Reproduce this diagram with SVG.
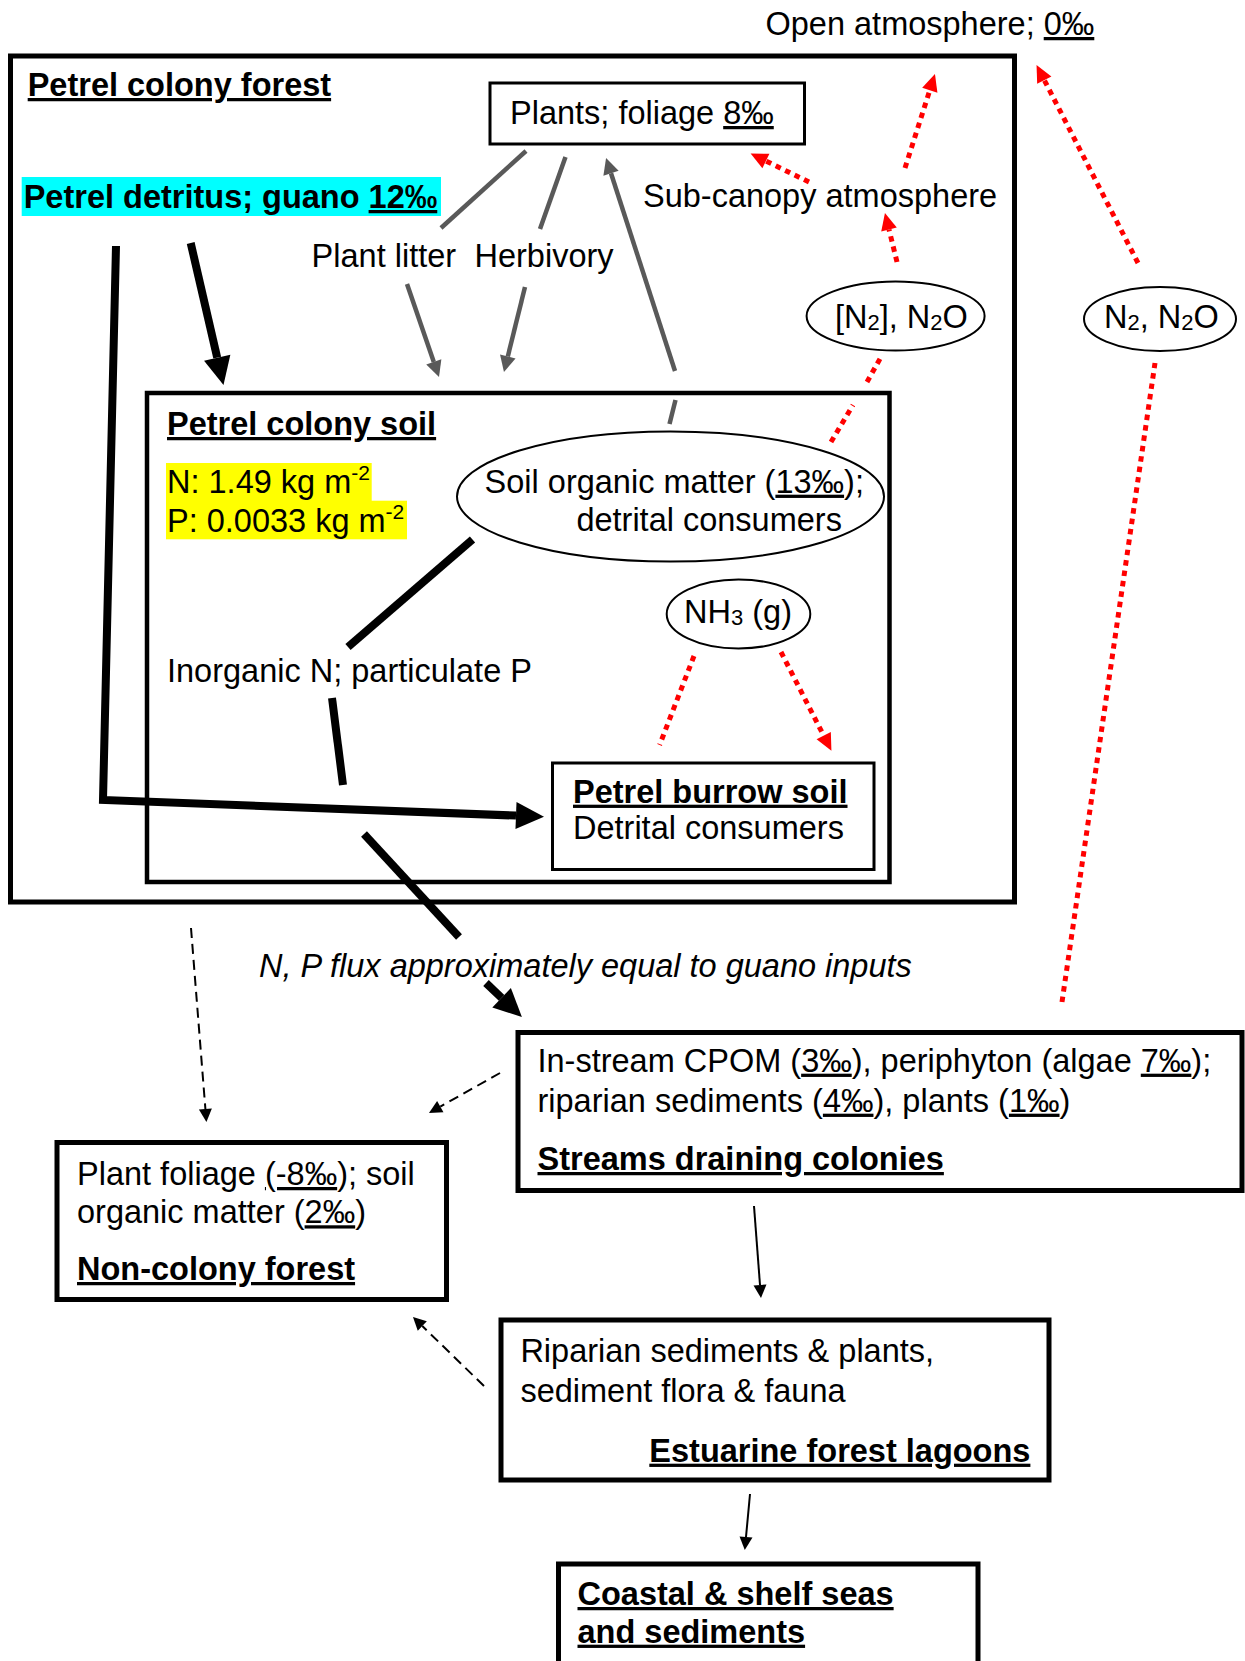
<svg xmlns="http://www.w3.org/2000/svg" width="1245" height="1661" viewBox="0 0 1245 1661">
<style>
text{font-family:"Liberation Sans",Arial,sans-serif;font-size:32.5px;fill:#000}
.b{font-weight:bold}
.i{font-style:italic}
.u{text-decoration:underline}
.box{fill:none;stroke:#000}
.ell{fill:#fff;stroke:#000;stroke-width:2}
.thick{stroke:#000;stroke-width:8;fill:none}
.gray{stroke:#595959;stroke-width:4.5;fill:none}
.red{stroke:#ff0000;stroke-width:5;stroke-dasharray:5.5 5;fill:none}
.dash{stroke:#000;stroke-width:2;stroke-dasharray:10 6;fill:none}
.thin{stroke:#000;stroke-width:2;fill:none}
</style>
<defs>
<marker id="ahBig" markerUnits="userSpaceOnUse" markerWidth="28" markerHeight="27" viewBox="0 0 28 27" refX="0" refY="13.5" orient="auto" overflow="visible"><path d="M0,0 L28,13.5 L0,27 z" fill="#000"/></marker>
<marker id="ahGray" markerUnits="userSpaceOnUse" markerWidth="16" markerHeight="16" viewBox="0 0 16 16" refX="0" refY="8" orient="auto" overflow="visible"><path d="M0,0 L16,8 L0,16 z" fill="#595959"/></marker>
<marker id="ahRed" markerUnits="userSpaceOnUse" markerWidth="17" markerHeight="16" viewBox="0 0 17 16" refX="0" refY="8" orient="auto" overflow="visible"><path d="M0,0 L17,8 L0,16 z" fill="#ff0000"/></marker>
<marker id="ahSmall" markerUnits="userSpaceOnUse" markerWidth="13" markerHeight="13" viewBox="0 0 13 13" refX="0" refY="6.5" orient="auto" overflow="visible"><path d="M0,0 L13,6.5 L0,13 z" fill="#000"/></marker>
</defs>

<g id="open-atmosphere">
<text x="765.5" y="35">Open atmosphere; <tspan class="u">0‰</tspan></text>
</g>

<g id="petrel-colony-forest">
<rect class="box" x="10.5" y="56" width="1004" height="846" stroke-width="5"/>
<text class="b" x="27.7" y="96"><tspan class="u">Petrel colony forest</tspan></text>
</g>

<g id="plants-foliage">
<rect class="box" x="490" y="83" width="314.5" height="61" stroke-width="3"/>
<text x="510" y="124">Plants; foliage <tspan class="u">8‰</tspan></text>
</g>

<g id="petrel-detritus">
<rect x="21.7" y="177" width="419.3" height="39" fill="#00ffff"/>
<text class="b" x="23.7" y="208">Petrel detritus; guano <tspan class="u">12‰</tspan></text>
</g>

<g id="sub-canopy-atmosphere">
<text x="643" y="207">Sub-canopy atmosphere</text>
</g>

<g id="plant-litter-label"><text x="311.6" y="266.7">Plant litter</text></g>
<g id="herbivory-label"><text x="474.5" y="266.7">Herbivory</text></g>

<g id="n2-n2o-inner">
<ellipse class="ell" cx="895.6" cy="316" rx="89" ry="34.5"/>
<text x="835" y="328">[N<tspan font-size="22" dy="2">2</tspan><tspan dy="-2">], N</tspan><tspan font-size="22" dy="2">2</tspan><tspan dy="-2">O</tspan></text>
</g>

<g id="n2-n2o-outer">
<ellipse class="ell" cx="1160" cy="319" rx="76" ry="32"/>
<text x="1104" y="328">N<tspan font-size="22" dy="2">2</tspan><tspan dy="-2">, N</tspan><tspan font-size="22" dy="2">2</tspan><tspan dy="-2">O</tspan></text>
</g>

<g id="petrel-colony-soil">
<rect class="box" x="147" y="393" width="742.5" height="489" stroke-width="4.5"/>
<text class="b" x="167" y="435"><tspan class="u">Petrel colony soil</tspan></text>
<rect x="166" y="463" width="205.7" height="38" fill="#ffff00"/>
<rect x="166" y="500.7" width="241" height="38.6" fill="#ffff00"/>
<text x="167" y="493">N: 1.49 kg m<tspan font-size="21" dy="-13">-2</tspan></text>
<text x="167" y="531.7">P: 0.0033 kg m<tspan font-size="21" dy="-13">-2</tspan></text>
</g>

<g id="soil-organic-matter">
<ellipse class="ell" cx="670.5" cy="496.5" rx="213.5" ry="65"/>
<text x="484.6" y="492.7">Soil organic matter (<tspan class="u">13‰</tspan>);</text>
<text x="576.4" y="530.7">detrital consumers</text>
</g>

<g id="inorganic-n">
<text x="167" y="681.7">Inorganic N; particulate P</text>
</g>

<g id="nh3">
<ellipse class="ell" cx="738.5" cy="614" rx="71.8" ry="34.5"/>
<text x="684" y="623">NH<tspan font-size="22" dy="2">3</tspan><tspan dy="-2"> (g)</tspan></text>
</g>

<g id="petrel-burrow-soil">
<rect class="box" x="552.5" y="763" width="321.5" height="106.5" stroke-width="3"/>
<text class="b" x="573" y="802.7"><tspan class="u">Petrel burrow soil</tspan></text>
<text x="573" y="839.3">Detrital consumers</text>
</g>

<g id="flux-label">
<text class="i" x="259" y="976.7">N, P flux approximately equal to guano inputs</text>
</g>

<g id="streams">
<rect class="box" x="518" y="1032.5" width="724" height="158" stroke-width="5"/>
<text x="537.5" y="1071.7">In-stream CPOM (<tspan class="u">3‰</tspan>), periphyton (algae <tspan class="u">7‰</tspan>);</text>
<text x="537.5" y="1111.7">riparian sediments (<tspan class="u">4‰</tspan>), plants (<tspan class="u">1‰</tspan>)</text>
<text class="b" x="537.5" y="1170"><tspan class="u">Streams draining colonies</tspan></text>
</g>

<g id="non-colony-forest">
<rect class="box" x="57" y="1142.5" width="389.5" height="157" stroke-width="5"/>
<text x="77" y="1185">Plant foliage <tspan class="u">(-8‰</tspan>); soil</text>
<text x="77" y="1223.3">organic matter (<tspan class="u">2‰</tspan>)</text>
<text class="b" x="77" y="1280"><tspan class="u">Non-colony forest</tspan></text>
</g>

<g id="estuarine-lagoons">
<rect class="box" x="501" y="1320" width="548" height="160" stroke-width="5"/>
<text x="520.4" y="1361.7">Riparian sediments &amp; plants,</text>
<text x="520.4" y="1401.7">sediment flora &amp; fauna</text>
<text class="b" x="1030.4" y="1461.7" text-anchor="end"><tspan class="u">Estuarine forest lagoons</tspan></text>
</g>

<g id="coastal-seas">
<rect class="box" x="558.5" y="1564" width="419.5" height="130" stroke-width="5"/>
<text class="b" x="577.5" y="1605"><tspan class="u">Coastal &amp; shelf seas</tspan></text>
<text class="b" x="577.5" y="1642.7"><tspan class="u">and sediments</tspan></text>
</g>

<g id="connectors">
<polyline class="thick" points="116,246 103,800 516,815.6" marker-end="url(#ahBig)"/>
<line class="thick" x1="190.7" y1="243" x2="217.2" y2="357.7" marker-end="url(#ahBig)"/>
<line class="gray" x1="526" y1="151" x2="441" y2="228"/>
<line class="gray" x1="565.5" y1="157" x2="540" y2="229"/>
<line class="gray" x1="407" y1="284" x2="433.8" y2="361.9" marker-end="url(#ahGray)"/>
<line class="gray" x1="525" y1="287" x2="507.8" y2="356.5" marker-end="url(#ahGray)"/>
<line class="gray" x1="669.5" y1="424" x2="675.5" y2="400"/>
<line class="gray" x1="675" y1="371" x2="611" y2="173.2" marker-end="url(#ahGray)"/>
<line class="red" x1="809" y1="182" x2="765.9" y2="161" marker-end="url(#ahRed)"/>
<line class="red" x1="905" y1="168" x2="929.8" y2="90.2" marker-end="url(#ahRed)"/>
<line class="red" x1="897" y1="262" x2="889" y2="229.5" marker-end="url(#ahRed)"/>
<line class="red" x1="831" y1="442" x2="853" y2="405"/>
<line class="red" x1="867" y1="382" x2="881" y2="357"/>
<line class="red" x1="1138" y1="263" x2="1044.3" y2="80.1" marker-end="url(#ahRed)"/>
<line class="red" x1="1062" y1="1002" x2="1155" y2="363"/>
<line class="red" x1="694" y1="656" x2="659.6" y2="745"/>
<line class="red" x1="781" y1="652" x2="823.7" y2="735.7" marker-end="url(#ahRed)"/>
<line class="thick" x1="472.5" y1="539.5" x2="348" y2="647"/>
<line class="thick" x1="332" y1="698" x2="343" y2="785"/>
<line class="thick" x1="364" y1="834" x2="459" y2="937"/>
<line class="thick" x1="486" y1="983" x2="501.6" y2="997.8" marker-end="url(#ahBig)"/>
<line class="dash" x1="191" y1="928" x2="205.4" y2="1109" marker-end="url(#ahSmall)"/>
<line class="dash" x1="500" y1="1073" x2="440.3" y2="1106.6" marker-end="url(#ahSmall)"/>
<line class="dash" x1="484" y1="1386" x2="422.3" y2="1326" marker-end="url(#ahSmall)"/>
<line class="thin" x1="754" y1="1206" x2="760" y2="1285" marker-end="url(#ahSmall)"/>
<line class="thin" x1="750" y1="1494" x2="746" y2="1537" marker-end="url(#ahSmall)"/>
</g>
</svg>
